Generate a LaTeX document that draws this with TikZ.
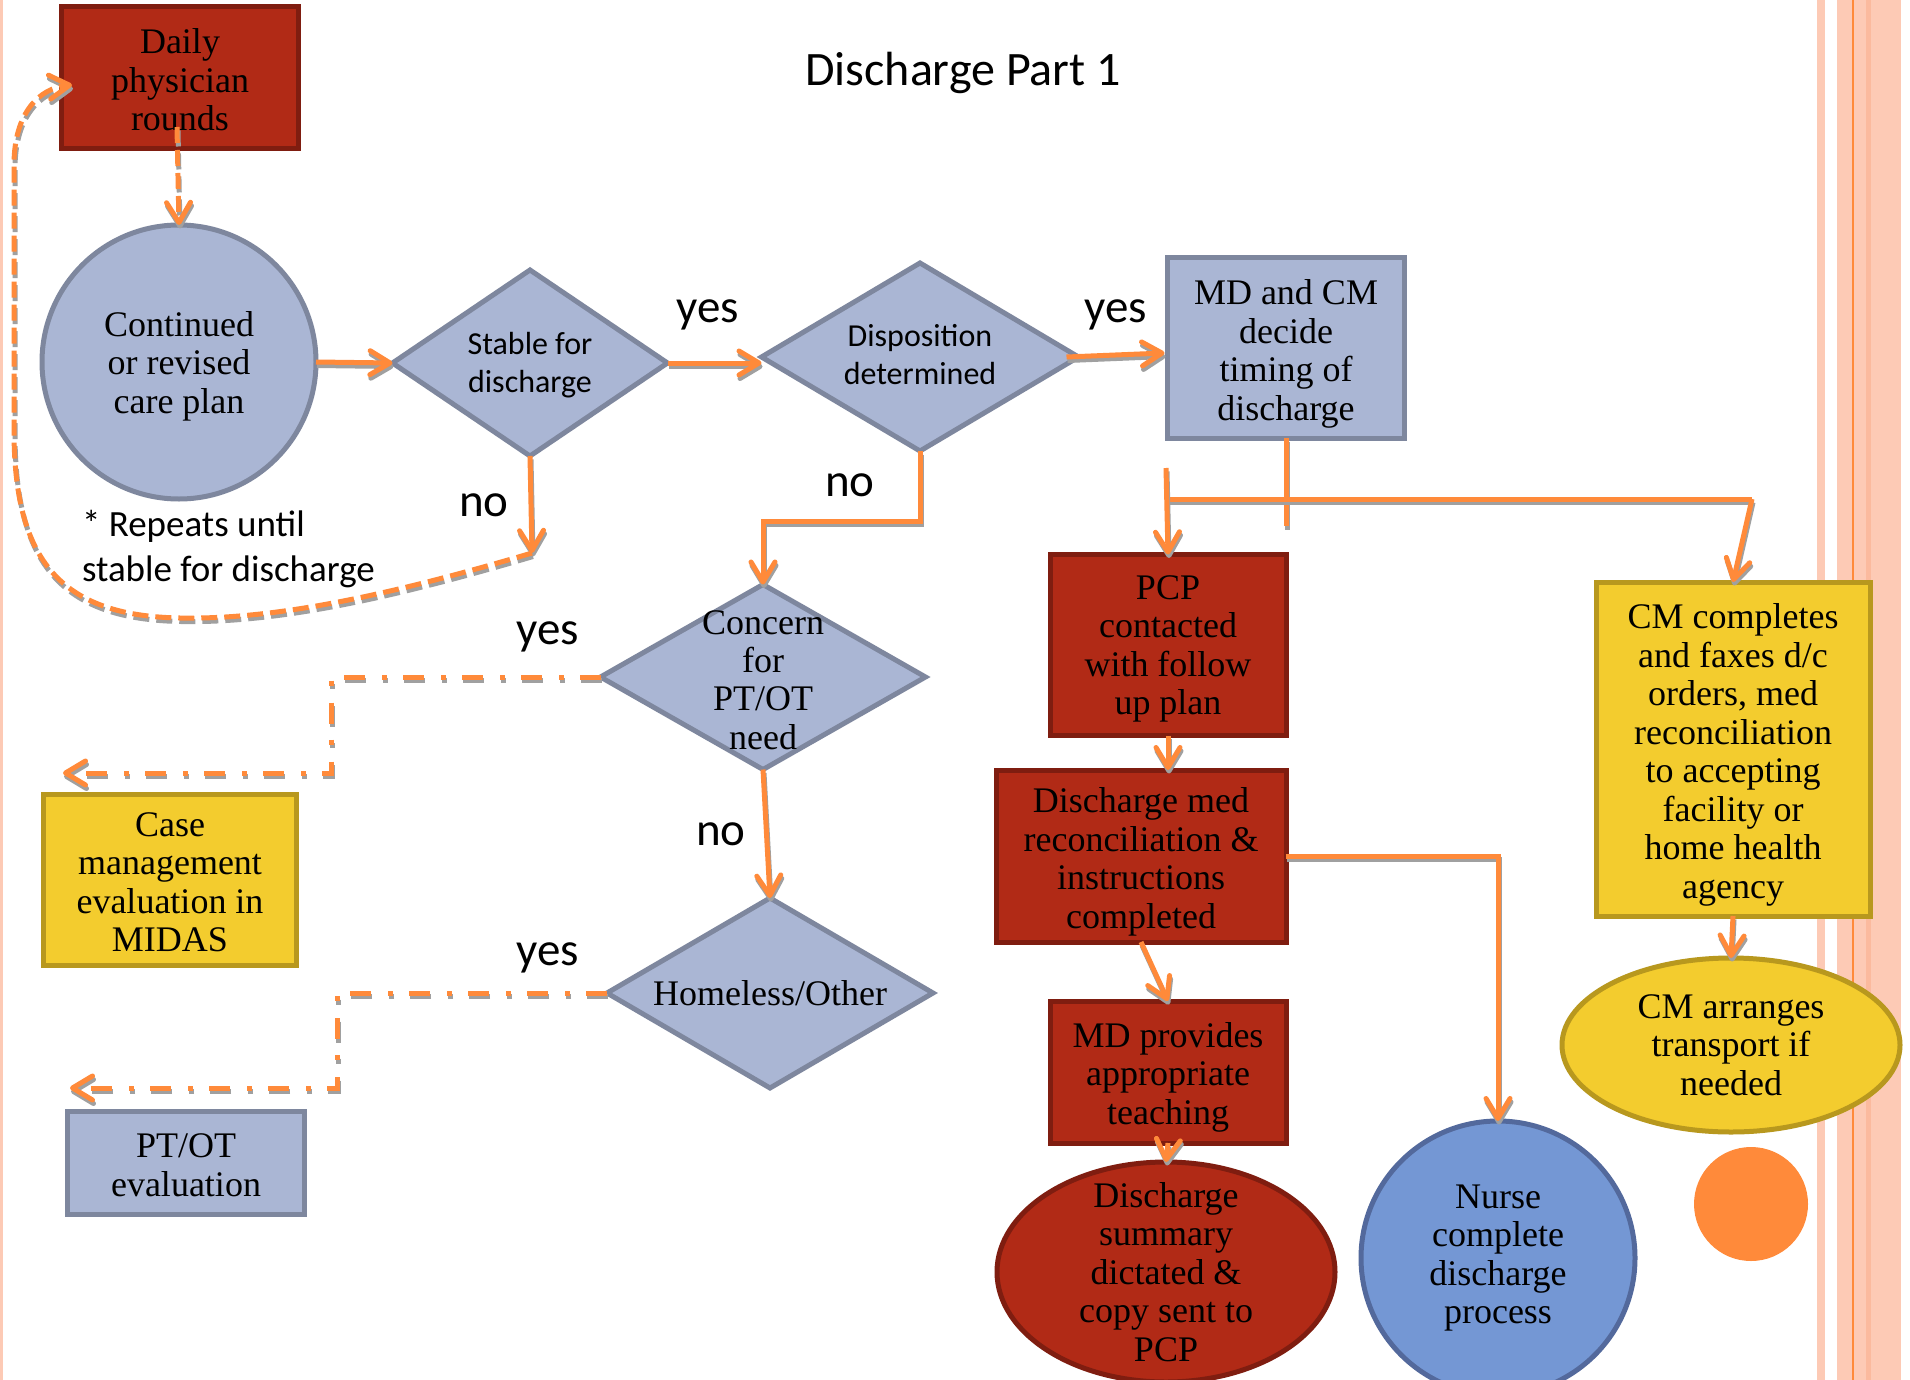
\documentclass[tikz,border=0pt]{standalone}
\usepackage{fontspec}
\setmainfont{Liberation Serif}
\newfontfamily\calfont{Carlito}
\usetikzlibrary{shapes.geometric,arrows.meta,calc}

\definecolor{redfill}{HTML}{B12A16}
\definecolor{redline}{HTML}{7F1D10}
\definecolor{bluefill}{HTML}{AAB6D4}
\definecolor{blueline}{HTML}{7E879E}
\definecolor{yelfill}{HTML}{F3CC2E}
\definecolor{yelline}{HTML}{B8981E}
\definecolor{nursefill}{HTML}{7497D4}
\definecolor{nurseline}{HTML}{53699C}
\definecolor{conn}{HTML}{FF8A3A}
\definecolor{shade}{HTML}{A0A0A0}
\definecolor{stripe}{HTML}{FDCAB5}
\definecolor{stripedark}{HTML}{FBBA9E}

\tikzset{
  every node/.style={inner sep=0pt, outer sep=0pt},
  serif text/.style={font=\fontsize{36}{38.5}\selectfont, align=center},
  sans text/.style={font=\calfont\fontsize{32}{38}\selectfont, align=center},
  lab/.style={font=\calfont\fontsize{47}{56}\selectfont},
  redbox/.style={rectangle, draw=redline, fill=redfill, line width=5pt},
  bluebox/.style={rectangle, draw=blueline, fill=bluefill, line width=5pt},
  yelbox/.style={rectangle, draw=yelline, fill=yelfill, line width=5pt},
  bluediam/.style={diamond, draw=blueline, fill=bluefill, line width=5pt},
  bluecirc/.style={circle, draw=blueline, fill=bluefill, line width=5pt},
  link/.style={draw=conn, line width=5pt},
  shadowline/.style={draw=shade, line width=5pt, transform canvas={xshift=1pt, yshift=-3.5pt}},
  tip/.style={-{Straight Barb[length=20pt,width=24pt,round]}},
  dashlong/.style={dash pattern=on 16pt off 7pt},
  dashdot/.style={dash pattern=on 21pt off 16pt on 5pt off 17pt},
}
% a connector: grey drop shadow first, then the orange line on top
\newcommand{\flowline}[2][]{\draw[shadowline,#1] #2; \draw[link,#1] #2;}

\begin{document}
\begin{tikzpicture}[x=1pt,y=-1pt]
\useasboundingbox (0,0) rectangle (1910,1380);
\fill[white] (0,0) rectangle (1910,1380);

% side stripes
\fill[stripe] (0,0) rectangle (3,1380);
\fill[stripe] (1817,0) rectangle (1825,1380);
\fill[stripe] (1837,0) rectangle (1901,1380);
\fill[stripedark] (1866,0) rectangle (1871,1380);
\draw[conn, line width=2.5pt] (1853,0) -- (1853,1380);

% title
\node[font=\calfont\fontsize{48}{58}\selectfont] (title) at (963,73) {Discharge Part 1};

% nodes
\node[redbox, minimum width=237pt, minimum height=142pt,
      label={[serif text, yshift=-2pt]center:Daily\\physician\\rounds}] (daily) at (180,78) {};
\node[bluecirc, minimum size=274pt,
      label={[serif text, yshift=-4pt]center:Continued\\or revised\\care plan}] (plan) at (179,362) {};
\node[bluediam, minimum width=275pt, minimum height=186pt,
      label={[sans text, yshift=-2pt]center:Stable for\\discharge}] (stable) at (530,363) {};
\node[bluediam, minimum width=317pt, minimum height=188pt,
      label={[sans text, yshift=2pt]center:Disposition\\determined}] (disp) at (920,357) {};
\node[bluebox, minimum width=237pt, minimum height=180pt,
      label={[serif text, yshift=-6pt]center:MD and CM\\decide\\timing of\\discharge}] (mdcm) at (1286,348) {};
\node[redbox, minimum width=236pt, minimum height=181pt,
      label={[serif text, yshift=-4pt]center:PCP\\contacted\\with follow\\up plan}] (pcp) at (1168,645) {};
\node[redbox, minimum width=290pt, minimum height=172pt,
      label={[serif text, yshift=-6pt]center:Discharge med\\reconciliation \&\\instructions\\completed}] (dm) at (1141,856) {};
\node[redbox, minimum width=236pt, minimum height=142pt,
      label={[serif text, yshift=-5pt]center:MD provides\\appropriate\\teaching}] (mdp) at (1168,1072) {};
\node[ellipse, draw=redline, fill=redfill, line width=5pt, minimum width=338pt, minimum height=220pt,
      label={[serif text]center:Discharge\\summary\\dictated \&\\copy sent to\\PCP}] (ds) at (1166,1272) {};
\node[circle, draw=nurseline, fill=nursefill, line width=5pt, minimum size=274pt,
      label={[serif text]center:Nurse\\complete\\discharge\\process}] (nurse) at (1498,1258) {};
\node[yelbox, minimum width=274pt, minimum height=334pt,
      label={[serif text, yshift=-6pt]center:CM completes\\and faxes d/c\\{orders, med}\\reconciliation\\to accepting\\facility or\\home health\\agency}] (cmc) at (1733,749) {};
\node[ellipse, draw=yelline, fill=yelfill, line width=5pt, minimum width=338pt, minimum height=174pt,
      label={[serif text]center:CM arranges\\transport if\\needed}] (cma) at (1731,1045) {};
\node[circle, fill=conn, minimum size=114pt] (dot) at (1751,1204) {};
\node[bluediam, minimum width=325pt, minimum height=185pt,
      label={[serif text, yshift=-3pt]center:Concern\\for\\PT/OT\\need}] (concern) at (763,677) {};
\node[bluediam, minimum width=326pt, minimum height=190pt,
      label={[serif text]center:Homeless/Other}] (homeless) at (770,993) {};
\node[yelbox, minimum width=253pt, minimum height=171pt,
      label={[serif text, yshift=-2pt]center:Case\\management\\evaluation in\\MIDAS}] (case) at (170,880) {};
\node[bluebox, minimum width=237pt, minimum height=103pt,
      label={[serif text, yshift=-2pt]center:PT/OT\\evaluation}] (ptot) at (186,1163) {};

% free ends and bends of connectors
\coordinate (loopstart) at (532,553);
\coordinate (loopend) at (72,85);
\coordinate (busL) at (1166,499);
\coordinate (busR) at (1752,499);
\coordinate (busTop) at (1166,468);
\coordinate (caseTurn) at (331,773);
\coordinate (caseTip) at (63,773);
\coordinate (ptTurn) at (337,1088);
\coordinate (ptTip) at (70,1088);

% connectors
\flowline[tip,dashlong]{($(daily.south)+(-3,-22)$) -- (plan.north)}
\flowline[tip]{(plan.east) -- (stable.west)}
\flowline[tip]{(stable.east) -- (stable.east -| disp.west)}
\flowline[tip]{($(disp.east)+(-12,0)$) -- ($(mdcm.west)+(-3,5)$)}
\flowline[tip]{(stable.south) -- (loopstart)}
\flowline[tip,dashlong]{(loopstart) .. controls (400,592) and (280,620) .. (180,618)
  .. controls (60,616) and (14,560) .. (14,430) -- (14,165)
  .. controls (14,112) and (40,88) .. (loopend)}
\flowline[tip]{(disp.south) -- ++(0,70) -| (concern.north)}
\flowline{(mdcm.south) -- ++(0,88)}
\flowline{(busL) -- (busR)}
\flowline[tip]{(busTop) -- (pcp.north)}
\flowline[tip]{(busR) -- (cmc.north)}
\flowline[tip]{(pcp.south) -- (pcp.south |- dm.north)}
\flowline[tip]{(dm.south) -- (mdp.north)}
\flowline[tip]{(mdp.south) -- (ds.north)}
\flowline[tip]{(dm.east) -| (nurse.north)}
\flowline[tip]{(cmc.south) -- (cma.north)}
\flowline[tip]{(concern.south) -- (homeless.north)}
\flowline[tip,dashdot]{(concern.west) -| (caseTurn) -- (caseTip)}
\flowline[tip,dashdot]{(homeless.west) -| (ptTurn) -- (ptTip)}

% branch labels
\node[lab] (y1) at (708,315) {yes};
\node[lab] (y2) at (1116,315) {yes};
\node[lab] (n1) at (484,505) {no};
\node[lab] (n2) at (850,485) {no};
\node[lab] (y3) at (548,637) {yes};
\node[lab] (n3) at (721,834) {no};
\node[lab] (y4) at (548,958) {yes};

% note
\node[font=\calfont\fontsize{37}{45}\selectfont, align=left, anchor=west] (note) at (82,549) {* Repeats until\\stable for discharge};
\end{tikzpicture}
\end{document}
